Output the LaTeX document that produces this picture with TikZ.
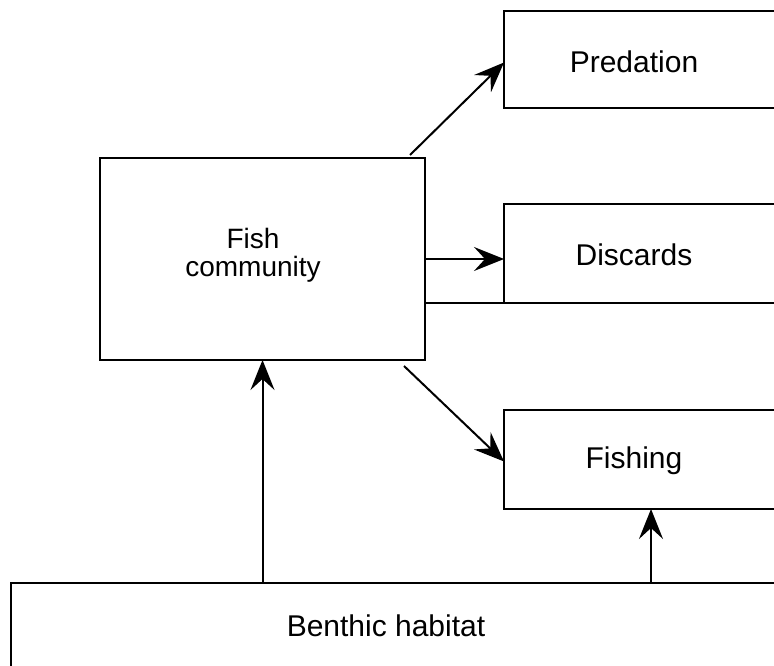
\documentclass[tikz,border=0pt]{standalone}
\usepackage{fontspec}
\setmainfont{Liberation Sans}
\usetikzlibrary{arrows.meta}
\begin{document}
\begin{tikzpicture}[x=1pt,y=-1pt,
  box/.style={draw, line width=2pt, inner sep=0pt, outer sep=0pt, anchor=north west},
  lbl/.style={anchor=base, inner sep=0pt, font=\fontsize{30}{36}\selectfont},
  smalllbl/.style={lbl, font=\fontsize{28}{34}\selectfont},
  flow/.style={line width=2pt, -{Stealth[length=30pt,width=24pt,inset=11pt]}}]
\useasboundingbox (0,0) rectangle (774,666);
\clip (0,0) rectangle (774,666);

% boxes (the right-hand ones run past the edge of the page)
\node[box, minimum width=300pt, minimum height=97pt]  (pred)    at (504,11)  {};
\node[box, minimum width=300pt, minimum height=99pt]  (disc)    at (504,204) {};
\node[box, minimum width=300pt, minimum height=99pt]  (fishing) at (504,410) {};
\node[box, minimum width=325pt, minimum height=202pt] (fish)    at (100,158) {};
\node[box, minimum width=800pt, minimum height=120pt] (benthic) at (11,583)  {};

% labels
\node[lbl] (predT) at (634,73)  {Predation};
\node[lbl] (discT) at (634,265) {Discards};
\node[lbl] (fishingT) at (634,468) {Fishing};
\node[lbl] (benthicT) at (386,636) {Benthic habitat};
\node[smalllbl] (fishT1) at (253,248) {Fish};
\node[smalllbl] (fishT2) at (253,276) {community};

% line under the discards box, reaching back to the fish community box
\draw[line width=2pt] (fish.east |- disc.south west) -- (disc.south west);

% flows
\draw[flow] ([xshift=-15pt,yshift=3pt]fish.north east) -- ([yshift=-3pt]pred.west);
\draw[flow] (fish.east) -- (fish.east -| disc.west);
\draw[flow] ([xshift=-21pt,yshift=-6pt]fish.south east) -- ([yshift=-2pt]fishing.west);
\draw[flow] (benthic.north -| fish.south) -- (fish.south);
\coordinate (fishin) at ([xshift=147pt]fishing.south west);
\draw[flow] (benthic.north -| fishin) -- (fishin);
\end{tikzpicture}
\end{document}
